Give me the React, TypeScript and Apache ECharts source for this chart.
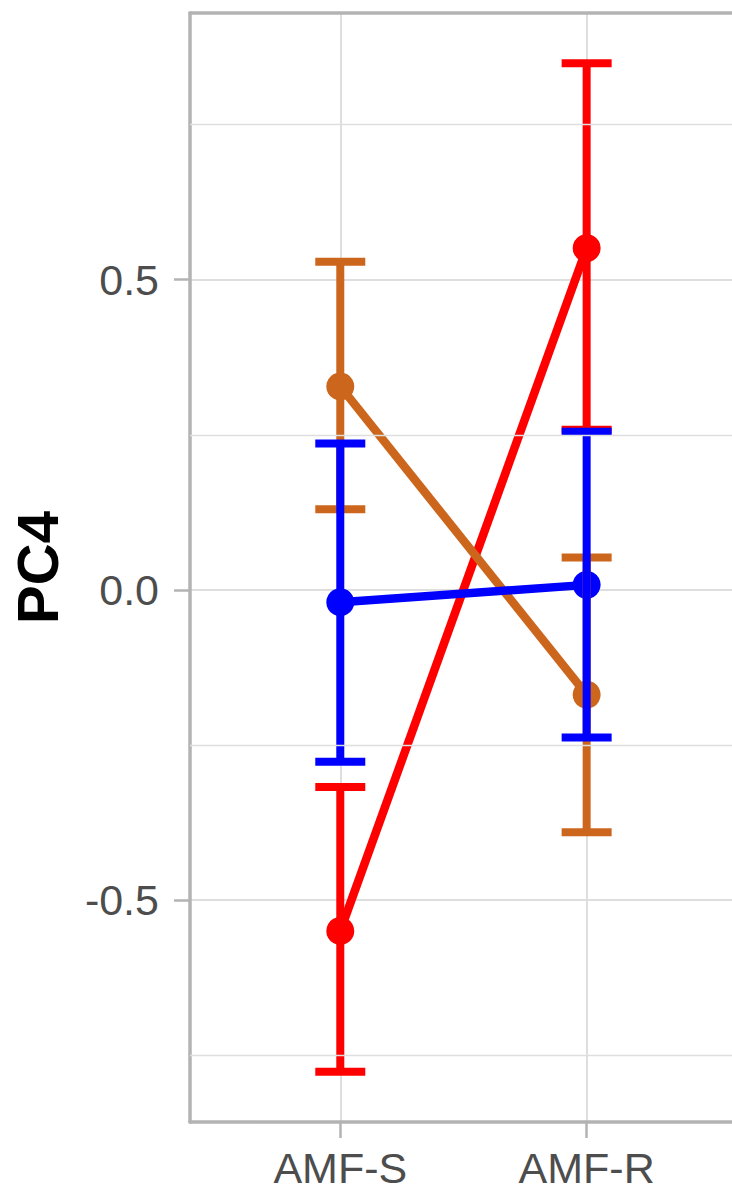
import React, { useEffect, useRef } from "react";
import * as echarts from "echarts";

const categories = ["AMF-S", "AMF-R"];
const yTickValues = [-0.5, 0, 0.5];
const yMinorValues = [-0.75, -0.25, 0.25, 0.75];

const redMean = [-0.55, 0.551];
const redLow = [-0.777, 0.258];
const redHigh = [-0.318, 0.849];

const orangeMean = [0.328, -0.169];
const orangeLow = [0.13, -0.391];
const orangeHigh = [0.529, 0.052];

const blueMean = [-0.02, 0.008];
const blueLow = [-0.277, -0.238];
const blueHigh = [0.236, 0.255];

const groups = [
  { name: "red", color: "#FF0000", mean: redMean, low: redLow, high: redHigh },
  { name: "orange", color: "#CD661D", mean: orangeMean, low: orangeLow, high: orangeHigh },
  { name: "blue", color: "#0000FF", mean: blueMean, low: blueLow, high: blueHigh },
];

const FONT = "'Liberation Sans', Arial, sans-serif";
const BORDER = { color: "#b3b3b3", width: 3.5 };

export default function App() {
  const ref = useRef<HTMLDivElement>(null);
  useEffect(() => {
    document.body.style.margin = "0";
    if (!ref.current) return;
    const chart = echarts.init(ref.current, null, { renderer: "svg" });
    const catX = categories.map((_, i) => i + 1);

    const lineSeries = groups.map((g) => ({
      type: "line",
      name: g.name,
      z: 3,
      data: catX.map((x, i) => [x, g.mean[i]]),
      symbol: "circle",
      symbolSize: 28,
      itemStyle: { color: g.color },
      lineStyle: { color: g.color, width: 8.5 },
      silent: true,
    }));

    const errSeries = groups.map((g) => ({
      type: "custom",
      name: g.name + "-err",
      z: 4,
      data: catX.map((x, i) => [x, g.low[i], g.high[i]]),
      encode: { x: 0, y: [1, 2] },
      silent: true,
      renderItem: (params: any, api: any) => {
        const x = api.value(0);
        const pLo = api.coord([x, api.value(1)]);
        const pHi = api.coord([x, api.value(2)]);
        const half = 25;
        const style = { stroke: g.color, lineWidth: 8, fill: null };
        return {
          type: "group",
          children: [
            { type: "line", shape: { x1: pLo[0], y1: pLo[1], x2: pHi[0], y2: pHi[1] }, style },
            { type: "line", shape: { x1: pLo[0] - half, y1: pLo[1], x2: pLo[0] + half, y2: pLo[1] }, style },
            { type: "line", shape: { x1: pHi[0] - half, y1: pHi[1], x2: pHi[0] + half, y2: pHi[1] }, style },
          ],
        };
      },
    }));

    const minorSeries = {
      type: "line",
      name: "minor",
      z: 1,
      data: [],
      silent: true,
      markLine: {
        silent: true,
        symbol: "none",
        label: { show: false },
        lineStyle: { color: "#dedede", width: 1.4, type: "solid" },
        data: yMinorValues.map((v) => ({ yAxis: v })),
        animation: false,
      },
    };

    chart.setOption({
      animation: false,
      grid: {
        left: 190,
        top: 13,
        right: 0,
        bottom: 72,
        show: false,
        containLabel: false,
      },
      xAxis: [
        {
          type: "value",
          min: 0.39,
          max: 2.59,
          position: "bottom",
          axisLine: { show: true, onZero: false, lineStyle: BORDER },
          axisTick: {
            show: true,
            customValues: catX,
            length: 16,
            lineStyle: { color: "#b3b3b3", width: 2.5 },
          },
          axisLabel: {
            customValues: catX,
            formatter: (v: number) => categories[Math.round(v) - 1] ?? "",
            color: "#4d4d4d",
            fontSize: 43,
            fontFamily: FONT,
            margin: 24,
          },
          splitLine: { show: true, lineStyle: { color: "#dedede", width: 2 } },
        },
        {
          type: "value",
          min: 0.39,
          max: 2.59,
          position: "top",
          axisLine: { show: true, onZero: false, lineStyle: BORDER },
          axisTick: { show: false },
          axisLabel: { show: false },
          splitLine: { show: false },
        },
      ],
      yAxis: {
        type: "value",
        min: -0.858,
        max: 0.93,
        name: "PC4",
        nameLocation: "middle",
        nameRotate: 90,
        nameGap: 124,
        nameTextStyle: { fontSize: 58, fontWeight: "bold", color: "#000000", fontFamily: FONT },
        axisLine: { show: true, onZero: false, lineStyle: BORDER },
        axisTick: {
          show: true,
          customValues: yTickValues,
          length: 16,
          lineStyle: { color: "#b3b3b3", width: 2.5 },
        },
        axisLabel: {
          customValues: yTickValues,
          formatter: (v: number) => v.toFixed(1),
          color: "#4d4d4d",
          fontSize: 43,
          fontFamily: FONT,
          margin: 31,
        },
        splitLine: { show: true, lineStyle: { color: "#dedede", width: 2 } },
      },
      series: [minorSeries, ...lineSeries, ...errSeries],
    });
    return () => chart.dispose();
  }, []);
  return <div ref={ref} style={{ width: 732, height: 1194 }} />;
}
